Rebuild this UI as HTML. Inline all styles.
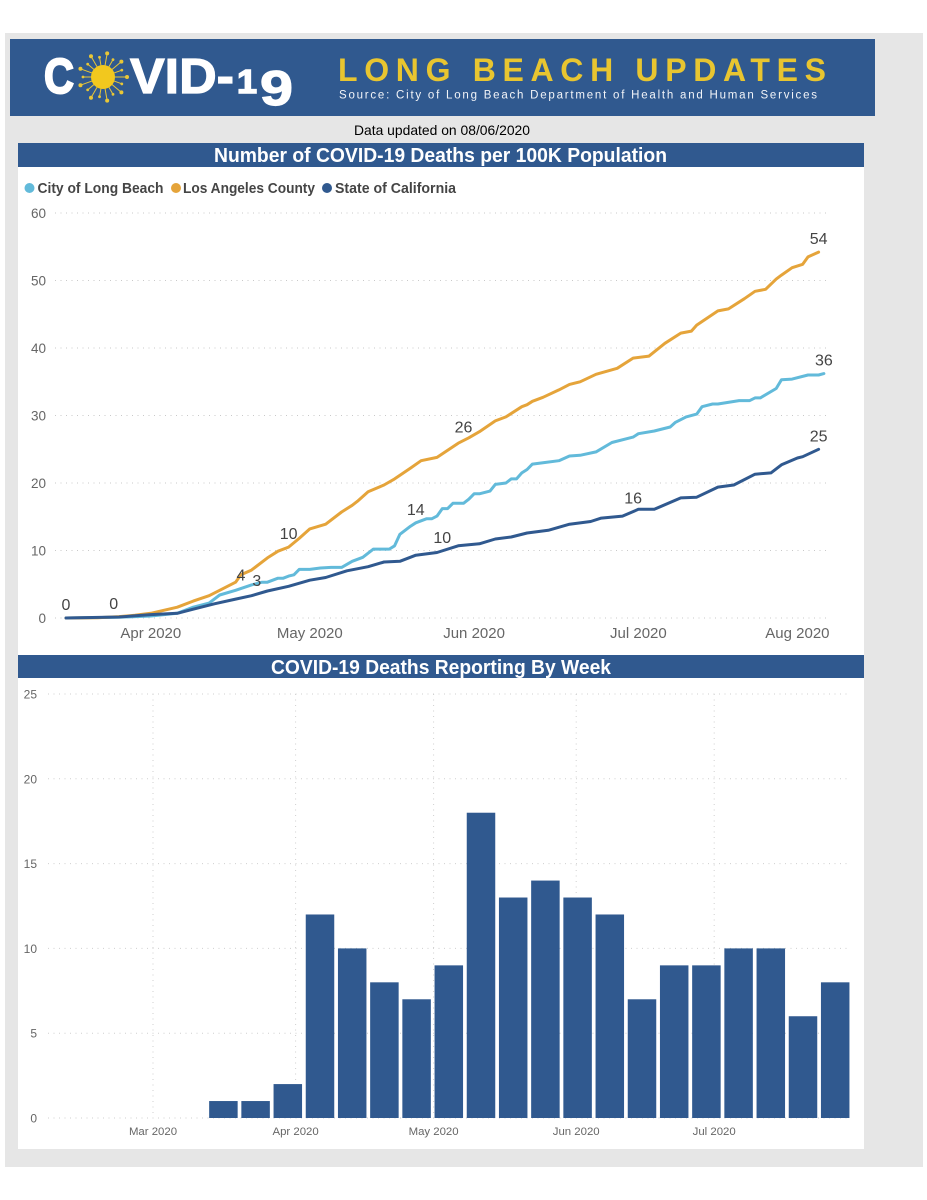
<!DOCTYPE html>
<html lang="en">
<head>
<meta charset="utf-8">
<title>COVID-19 Long Beach Updates</title>
<style>
html,body{margin:0;padding:0;background:#fff;}
svg{display:block;}
text{font-family:"Liberation Sans",sans-serif;}
</style>
</head>
<body>
<svg id="page" xmlns="http://www.w3.org/2000/svg" width="927" height="1200" viewBox="0 0 927 1200">
  <rect x="0" y="0" width="927" height="1200" fill="#ffffff"/>
  <rect x="5" y="33" width="918" height="1134" fill="#e6e6e6"/>

  <g>
    <rect x="10" y="39" width="865" height="77" fill="#30598f"/>
    <text x="44" y="93" font-size="49" font-weight="700" fill="#fff" stroke="#fff" stroke-width="2" textLength="30" lengthAdjust="spacingAndGlyphs">C</text>
    <g id="virus"></g>
    <text x="130" y="93" font-size="49" font-weight="700" fill="#fff" stroke="#fff" stroke-width="1.2" textLength="104" lengthAdjust="spacingAndGlyphs">VID-</text>
    <text x="237" y="93" font-size="33" font-weight="700" fill="#fff" stroke="#fff" stroke-width="1.5" textLength="20" lengthAdjust="spacingAndGlyphs">1</text>
    <text x="260" y="105" font-size="49" font-weight="700" fill="#fff" stroke="#fff" stroke-width="1.2" textLength="33" lengthAdjust="spacingAndGlyphs">9</text>
    <text x="338" y="81" font-size="32" font-weight="700" fill="#e8c530" textLength="488" lengthAdjust="spacing">LONG BEACH UPDATES</text>
    <text x="339" y="98.500" font-size="11.500" font-weight="400" fill="#f2f4f8" textLength="478" lengthAdjust="spacing">Source: City of Long Beach Department of Health and Human Services</text>
  </g>

  <text x="354" y="135" font-size="14" fill="#000" textLength="176" lengthAdjust="spacingAndGlyphs">Data updated on 08/06/2020</text>

  <rect x="18" y="143" width="846" height="24" fill="#30598f"/>
  <text x="214" y="162" font-size="20" font-weight="700" fill="#fff" textLength="453" lengthAdjust="spacingAndGlyphs">Number of COVID-19 Deaths per 100K Population</text>
  <rect x="18" y="167" width="846" height="488" fill="#ffffff"/>

  <g>
    <g>
      <circle cx="29.500" cy="188" r="5" fill="#62bada"/>
      <text x="37.500" y="193" font-size="14.500" font-weight="700" fill="#454545" textLength="126" lengthAdjust="spacingAndGlyphs">City of Long Beach</text>
    </g>
    <g>
      <circle cx="176" cy="188" r="5" fill="#e5a43a"/>
      <text x="183" y="193" font-size="14.500" font-weight="700" fill="#454545" textLength="132" lengthAdjust="spacingAndGlyphs">Los Angeles County</text>
    </g>
    <g>
      <circle cx="327" cy="188" r="5" fill="#30598f"/>
      <text x="335" y="193" font-size="14.500" font-weight="700" fill="#454545" textLength="121" lengthAdjust="spacingAndGlyphs">State of California</text>
    </g>
  </g>
  <g id="lineChart"></g>

  <rect x="18" y="655" width="846" height="23" fill="#30598f"/>
  <text x="271" y="674" font-size="20" font-weight="700" fill="#fff" textLength="340" lengthAdjust="spacingAndGlyphs">COVID-19 Deaths Reporting By Week</text>
  <rect x="18" y="678" width="846" height="471" fill="#ffffff"/>
  <g id="barChart"></g>
</svg>

<script>
// ---------- Line chart data (days since 16 Mar 2020, deaths per 100K) ----------
const lineYTicks = [0, 10, 20, 30, 40, 50, 60];
const lineMonthLabels = ['Apr 2020', 'May 2020', 'Jun 2020', 'Jul 2020', 'Aug 2020'];
const lineMonthDays = [16, 46, 77, 108, 138];

const longBeachDays = [0,10,16,21,24,27,29,32,35,37,38,40,41,42,43,44,46,48,50,52,54,56,58,61,62,63,65,66,68,69,70,71,72,73,75,76,77,78,80,81,83,84,85,86,87,88,90,93,95,97,100,103,107,108,111,114,115,117,119,120,122,123,127,129,130,131,134,135,137,140,142,143];
const longBeachValues = [0,0.1,0.3,0.7,1.6,2.2,3.4,4.1,4.9,5.3,5.3,5.9,5.9,6.2,6.4,7.2,7.2,7.4,7.5,7.5,8.4,9,10.2,10.2,10.7,12.4,13.6,14.1,14.7,14.7,15.1,16.2,16.2,17,17,17.6,18.4,18.4,18.8,19.8,20,20.6,20.6,21.5,22,22.8,23,23.3,24,24.1,24.6,26,26.8,27.3,27.7,28.3,29,29.8,30.2,31.3,31.7,31.7,32.2,32.2,32.6,32.6,34,35.3,35.4,36,36,36.2];

const laCountyDays = [0,6,10,13,16,21,24,27,29,32,33,35,38,40,42,44,46,49,52,54,55,57,60,62,65,67,70,74,76,78,81,83,86,87,88,90,93,95,97,100,104,107,110,113,116,118,119,123,125,128,130,132,134,135,137,139,140,142];
const laCountyValues = [0,0.05,0.2,0.4,0.7,1.6,2.5,3.3,4.1,5.3,6.4,7.1,8.9,9.9,10.5,11.8,13.2,13.9,15.7,16.7,17.3,18.7,19.7,20.6,22.2,23.3,23.8,25.9,26.7,27.6,29.2,29.8,31.3,31.6,32.1,32.7,33.8,34.6,35,36.1,37,38.5,38.8,40.7,42.2,42.5,43.4,45.5,45.8,47.3,48.4,48.7,50.2,50.8,51.9,52.4,53.5,54.2];

const californiaDays = [0,10,16,21,24,28,32,35,38,42,46,49,53,57,60,63,66,70,74,78,81,84,87,91,95,99,101,105,108,111,116,119,123,126,130,133,135,138,139,142];
const californiaValues = [0,0.15,0.5,0.7,1.3,2.1,2.8,3.3,4,4.7,5.6,6,7,7.6,8.3,8.4,9.3,9.7,10.7,11,11.7,12,12.6,13,13.9,14.3,14.8,15.1,16.1,16.1,17.8,17.9,19.4,19.7,21.3,21.5,22.7,23.7,23.9,25];

const lineLabelTexts = ['0','0','4','3','10','14','10','26','16','54','36','25'];
const lineLabelDays = [0,9,33,36,42,66,71,75,107,142,143,142];
const lineLabelSeries = ['ca','ca','lb','ca','la','lb','ca','la','ca','la','lb','ca'];

// ---------- Bar chart data ----------
const barYTicks = [0, 5, 10, 15, 20, 25];
const barMonthLabels = ['Mar 2020', 'Apr 2020', 'May 2020', 'Jun 2020', 'Jul 2020'];
const barMonthDates = ['2020-03-01', '2020-04-01', '2020-05-01', '2020-06-01', '2020-07-01'];
const weekStarts = ['2020-03-15','2020-03-22','2020-03-29','2020-04-05','2020-04-12','2020-04-19','2020-04-26','2020-05-03','2020-05-10','2020-05-17','2020-05-24','2020-05-31','2020-06-07','2020-06-14','2020-06-21','2020-06-28','2020-07-05','2020-07-12','2020-07-19','2020-07-26'];
const weeklyDeaths = [1,1,2,12,10,8,7,9,18,13,14,13,12,7,9,9,10,10,6,8];

const SVGNS = 'http://www.w3.org/2000/svg';
function make(tag, parent, attrs, txt) {
  const el = document.createElementNS(SVGNS, tag);
  for (const k in attrs) el.setAttribute(k, attrs[k]);
  if (txt !== undefined) el.textContent = txt;
  parent.appendChild(el);
  return el;
}

// ---------- Virus icon ----------
(function () {
  const g = document.getElementById('virus');
  const cx = 103, cy = 77;
  const spikes = make('g', g, {});
  
  
  for (let i = 0; i < 18; i++) {
    const a = i * Math.PI * 2 / 18;
    const r = i % 2 ? 20 : 24;
    const c = Math.cos(a), s = Math.sin(a);
    make('line', spikes, {x1: cx + 10 * c, y1: cy + 10 * s, x2: cx + r * c, y2: cy + r * s, stroke: '#e9c736', 'stroke-width': 1});
    make('circle', spikes, {cx: cx + r * c, cy: cy + r * s, r: i % 2 ? 1.4 : 2, fill: '#e9c736'});
  }
  const core = make('circle', g, {cx: cx, cy: cy, r: 12, fill: '#f2c81e'});
  
  
})();

// ---------- Line chart ----------
(function () {
  const root = document.getElementById('lineChart');
  const x = d => 66 + 5.3 * d;
  const y = v => 618 - 6.75 * v;
  const series = {
    lb: {days: longBeachDays, values: longBeachValues, color: '#62bada', name: 'line-long-beach'},
    la: {days: laCountyDays, values: laCountyValues, color: '#e5a43a', name: 'line-la-county'},
    ca: {days: californiaDays, values: californiaValues, color: '#30598f', name: 'line-california'}
  };
  const valueAt = (s, d) => {
    const ds = s.days, vs = s.values;
    for (let i = 1; i < ds.length; i++) {
      if (d <= ds[i]) {
        const t = (d - ds[i - 1]) / (ds[i] - ds[i - 1]);
        return vs[i - 1] + t * (vs[i] - vs[i - 1]);
      }
    }
    return vs[vs.length - 1];
  };

  lineYTicks.forEach(t => {
    const line = make('line', root, {x1: 55, x2: 830, y1: y(t), y2: y(t), stroke: '#c9c9c9', 'stroke-width': 1, 'stroke-dasharray': '1 4.5'});
    
    
    const label = make('text', root, {x: 46, y: y(t) + 5, 'text-anchor': 'end', 'font-size': 13.5, fill: '#666'}, String(t));
    
    
  });

  lineMonthLabels.forEach((m, i) => {
    const label = make('text', root, {x: x(lineMonthDays[i]), y: 638, 'text-anchor': 'middle', 'font-size': 15, fill: '#666'}, m);
    
    
  });

  ['lb', 'la', 'ca'].forEach(key => {
    const s = series[key];
    const d = s.days.map((day, i) => (i ? 'L' : 'M') + x(day).toFixed(1) + ' ' + y(s.values[i]).toFixed(1)).join(' ');
    const path = make('path', root, {d: d, fill: 'none', stroke: s.color, 'stroke-width': 3, 'stroke-linejoin': 'round', 'stroke-linecap': 'round'});
    
    
  });

  lineLabelTexts.forEach((t, i) => {
    const s = series[lineLabelSeries[i]];
    const d = lineLabelDays[i];
    const label = make('text', root, {x: x(d), y: y(valueAt(s, d)) - 8, 'text-anchor': 'middle', 'font-size': 16, fill: '#444'}, t);
    
    
  });
})();

// ---------- Bar chart ----------
(function () {
  const root = document.getElementById('barChart');
  const MAR1 = Date.UTC(2020, 2, 1);
  const dayOf = s => (Date.parse(s + 'T00:00:00Z') - MAR1) / 86400000;
  const x = s => 153 + 4.6 * dayOf(s);
  const y = v => 1118 - 16.96 * v;
  const barWidth = 28.5;
  const barCenterShift = 6;

  barYTicks.forEach(t => {
    const line = make('line', root, {x1: 48, x2: 850, y1: y(t), y2: y(t), stroke: '#cfcfcf', 'stroke-width': 1, 'stroke-dasharray': '1 4.5'});
    
    
    const label = make('text', root, {x: 37, y: y(t) + 4.5, 'text-anchor': 'end', 'font-size': 12, fill: '#666'}, String(t));
    
    
  });

  barMonthLabels.forEach((m, i) => {
    const px = x(barMonthDates[i]);
    const line = make('line', root, {x1: px, x2: px, y1: y(25), y2: y(0), stroke: '#cfcfcf', 'stroke-width': 1, 'stroke-dasharray': '1 4.5'});
    
    
    const label = make('text', root, {x: px, y: 1135, 'text-anchor': 'middle', 'font-size': 11.4, fill: '#666'}, m);
    
    
  });

  weeklyDeaths.forEach((v, i) => {
    const rect = make('rect', root, {x: x(weekStarts[i]) + barCenterShift - barWidth / 2, y: y(v), width: barWidth, height: y(0) - y(v), fill: '#30598f'});
    
    
  });
})();
</script>
</body>
</html>
